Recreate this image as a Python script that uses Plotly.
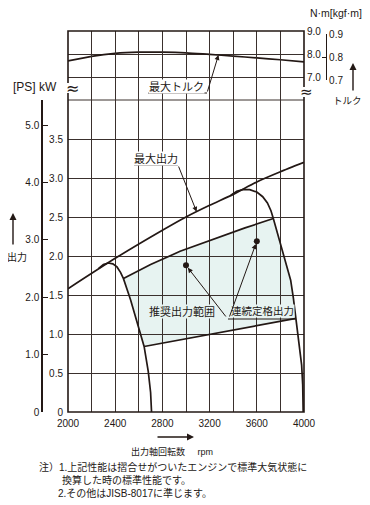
import numpy as np
import plotly.graph_objects as go

# ---------------- data ----------------
rpm_ticks = [2000, 2200, 2400, 2600, 2800, 3000, 3200, 3400, 3600, 3800, 4000]
rpm_ticktext = ['2000', '', '2400', '', '2800', '', '3200', '', '3600', '', '4000']
kw_ticks = [0, 0.5, 1.0, 1.5, 2.0, 2.5, 3.0, 3.5, 4.0]
kw_ticktext = ['0', '0.5', '1.0', '1.5', '2.0', '2.5', '3.0', '3.5', '']
ps_ticks = [0, 1, 2, 3, 4, 5]
ps_ticktext = ['0', '1.0', '2.0', '3.0', '4.0', '5.0']
nm_ticks = [6, 7, 8, 9]
nm_ticktext = ['', '7.0', '8.0', '9.0']
kgf_ticks = [0.7, 0.8, 0.9]
kgf_ticktext = ['0.7', '0.8', '0.9']

# max torque (N·m)
torque_rpm = [2000, 2200, 2400, 2600, 2800, 3000, 3200, 3400, 3600, 3800, 4000]
torque_nm = [7.70, 7.90, 8.03, 8.08, 8.08, 8.05, 7.98, 7.91, 7.83, 7.75, 7.66]

# max output (kW)
maxout_rpm = [2000, 2400, 2800, 3000, 3200, 3400, 3600, 3800, 4000]
maxout_kw = [1.58, 1.97, 2.33, 2.50, 2.65, 2.79, 2.95, 3.08, 3.20]

# low-speed limit hump (kW)
left_rpm = [2260, 2300, 2340, 2380, 2415, 2445, 2470, 2500, 2530, 2570, 2610, 2645, 2680, 2700, 2708]
left_kw = [1.84, 1.89, 1.91, 1.90, 1.86, 1.79, 1.71, 1.58, 1.44, 1.23, 1.03, 0.84, 0.52, 0.25, 0.0]

# high-speed limit hump (kW)
right_rpm = [3380, 3430, 3480, 3540, 3600, 3650, 3690, 3720, 3740, 3770, 3800, 3845, 3887, 3910, 3932, 3950, 3966, 3980, 3989, 3993]
right_kw = [2.78, 2.83, 2.85, 2.85, 2.82, 2.76, 2.68, 2.58, 2.48, 2.32, 2.14, 1.93, 1.69, 1.46, 1.20, 1.00, 0.84, 0.60, 0.35, 0.0]

# recommended output range edges (kW)
rec_top_rpm = [2470, 2700, 2950, 3200, 3500, 3740]
rec_top_kw = [1.71, 1.89, 2.06, 2.20, 2.36, 2.48]
rec_bot_rpm = [2645, 3932]
rec_bot_kw = [0.84, 1.20]

# marker dots
dot_rpm = [3000, 3600]
dot_kw = [1.88, 2.19]

notes = ['注）1.上記性能は摺合せがついたエンジンで標準大気状態に',
         '換算した時の標準性能です。',
         '2.その他はJISB-8017に準じます。']

# ---------------- style / geometry ----------------
W, H = 370, 505
OFF = 8                    # page body margin offset
INK = '#231815'
GRID = '#3a302d'
FILL = '#e7f3f1'
FONT = 'Liberation Sans, Arial, Noto Sans CJK JP, sans-serif'
X0, X1 = 68, 304          # plot area x (px in screenshot)
YB, YM, YT = 412, 100, 31  # bottom, break, top (px in screenshot)
KW_PER_PS = 0.73550


def px(x):
    return (x - OFF) / W


def py(y):
    return 1 - (y - OFF) / H


def rpm_at(xpix):
    return 2000 + (xpix - X0) / (X1 - X0) * 2000


def kw_at(ypix):
    return (YB - ypix) / (YB - YM) * 4.0


def nm_at(ypix):
    return 9 - (ypix - YT) / (YM - YT) * 3.0


fig = go.Figure()

# recommended range polygon (fill drawn under gridlines)
sel_r = [i for i, k in enumerate(right_kw) if rec_bot_kw[1] <= k <= rec_top_kw[-1]]
sel_l = [i for i, k in enumerate(left_kw) if rec_bot_kw[0] <= k <= rec_top_kw[0]]
poly_x = list(rec_top_rpm) + [right_rpm[i] for i in sel_r] + rec_bot_rpm[::-1] + [left_rpm[i] for i in sel_l][::-1]
poly_y = list(rec_top_kw) + [right_kw[i] for i in sel_r] + rec_bot_kw[::-1] + [left_kw[i] for i in sel_l][::-1]
path = 'M ' + ' L '.join(f'{a},{b}' for a, b in zip(poly_x, poly_y)) + ' Z'

line_style = dict(color=INK, width=1.7)
fig.add_trace(go.Scatter(x=torque_rpm, y=torque_nm, xaxis='x', yaxis='y2', mode='lines',
                         line=dict(color=INK, width=1.7, shape='spline', smoothing=0.8), hoverinfo='skip'))
fig.add_trace(go.Scatter(x=maxout_rpm, y=maxout_kw, mode='lines',
                         line=dict(color=INK, width=1.7, shape='spline', smoothing=0.6), hoverinfo='skip'))
fig.add_trace(go.Scatter(x=left_rpm, y=left_kw, mode='lines', line=line_style, hoverinfo='skip'))
fig.add_trace(go.Scatter(x=right_rpm, y=right_kw, mode='lines', line=line_style, hoverinfo='skip'))
fig.add_trace(go.Scatter(x=rec_top_rpm, y=rec_top_kw, mode='lines', line=line_style, hoverinfo='skip'))
fig.add_trace(go.Scatter(x=rec_bot_rpm, y=rec_bot_kw, mode='lines', line=line_style, hoverinfo='skip'))
fig.add_trace(go.Scatter(x=dot_rpm, y=dot_kw, mode='markers', marker=dict(color=INK, size=6), hoverinfo='skip'))
# carriers for the secondary scales
fig.add_trace(go.Scatter(x=[None], y=[None], yaxis='y3', xaxis='x', hoverinfo='skip'))
fig.add_trace(go.Scatter(x=[None], y=[None], yaxis='y4', xaxis='x', hoverinfo='skip'))

tf = dict(family=FONT, size=10, color=INK)
fig.update_layout(
    width=W, height=H, margin=dict(l=0, r=0, t=0, b=0, autoexpand=False),
    paper_bgcolor='white', plot_bgcolor='rgba(0,0,0,0)', showlegend=False,
    font=dict(family=FONT, color=INK),
    xaxis=dict(domain=[px(X0), px(X1)], range=[2000, 4000], tickvals=rpm_ticks, ticktext=rpm_ticktext,
               showgrid=True, gridcolor=GRID, gridwidth=1, ticks='', tickfont=tf, zeroline=False,
               showline=False, anchor='y', automargin=False, ticklabelstandoff=4),
    yaxis=dict(domain=[py(YB), py(YM)], range=[0, 4.0], tickvals=kw_ticks, ticktext=kw_ticktext,
               showgrid=True, gridcolor=GRID, gridwidth=1, ticks='', tickfont=tf, zeroline=False,
               showline=False, anchor='x', ticklabelstandoff=4, automargin=False),
    yaxis2=dict(domain=[py(YM), py(YT)], range=[6, 9], tickvals=nm_ticks, ticktext=nm_ticktext,
                showgrid=True, gridcolor=GRID, gridwidth=1, ticks='', tickfont=tf, zeroline=False,
                showline=False, anchor='x', side='right', ticklabelstandoff=2, automargin=False),
    yaxis3=dict(domain=[py(80), py(34)], range=[0.7, 0.9], tickvals=kgf_ticks, ticktext=kgf_ticktext,
                anchor='free', position=px(326), side='right', showgrid=False, zeroline=False,
                ticks='inside', ticklen=4, tickwidth=1.2, tickcolor=INK, showline=True, linecolor=INK,
                linewidth=1.2, tickfont=tf, automargin=False),
    yaxis4=dict(overlaying='y', range=[0, 4.0 / KW_PER_PS], tickvals=ps_ticks, ticktext=ps_ticktext,
                anchor='free', position=px(42), side='left', showgrid=False, zeroline=False,
                ticks='inside', ticklen=5, tickwidth=1.2, tickcolor=INK, showline=True, linecolor=INK,
                linewidth=1.5, tickfont=tf, automargin=False),
)

shapes = [
    dict(type='path', path=path, xref='x', yref='y', fillcolor=FILL, line=dict(width=0), layer='below'),
    dict(type='rect', xref='paper', yref='paper', x0=px(X0), x1=px(X1), y0=py(YB), y1=py(YT),
         line=dict(color=INK, width=1.6), layer='above'),
    dict(type='line', xref='paper', yref='paper', x0=px(X0), x1=px(X1), y0=py(YM), y1=py(YM),
         line=dict(color=GRID, width=1), layer='below'),
    # breaks in the frame behind the ≈ marks
    dict(type='rect', xref='paper', yref='paper', x0=px(65), x1=px(71), y0=py(93), y1=py(83),
         fillcolor='white', line=dict(width=0), layer='above'),
    dict(type='rect', xref='paper', yref='paper', x0=px(301), x1=px(307), y0=py(97), y1=py(87),
         fillcolor='white', line=dict(width=0), layer='above'),
    # label underlines
    dict(type='line', xref='paper', yref='paper', x0=px(148), x1=px(207), y0=py(93), y1=py(93),
         line=dict(color=INK, width=1), layer='above'),
    dict(type='line', xref='paper', yref='paper', x0=px(134), x1=px(178), y0=py(165), y1=py(165),
         line=dict(color=INK, width=1), layer='above'),
    dict(type='line', xref='paper', yref='paper', x0=px(228), x1=px(296), y0=py(319), y1=py(319),
         line=dict(color=INK, width=1), layer='above'),
]
fig.update_layout(shapes=shapes)


def txt(t, x, y, size=10, xanchor='center', bg=None, family=FONT):
    d = dict(text=t, x=px(x), y=py(y), xref='paper', yref='paper', showarrow=False,
             font=dict(family=family, size=size, color=INK), xanchor=xanchor, yanchor='middle')
    if bg:
        d.update(bgcolor=bg, borderpad=0)
    return d


def arrow_px(xt, yt, xs, ys, head=2, width=1.4):
    return dict(text='', x=px(xt), y=py(yt), xref='paper', yref='paper', showarrow=True,
                ax=xs - xt, ay=ys - yt, arrowhead=head, arrowsize=1, arrowwidth=width, arrowcolor=INK)


def arrow_data(xt, yt, xs, ys, yref='y', standoff=0):
    return dict(text='', x=xt, y=yt, xref='x', yref=yref, ax=xs, ay=ys, axref='x', ayref=yref,
                showarrow=True, arrowhead=2, arrowsize=1, arrowwidth=1, arrowcolor=INK, standoff=standoff)


tip_max_rpm = 3090
tip_max_kw = float(np.interp(tip_max_rpm, maxout_rpm, maxout_kw))
tip_tq_rpm = 3275
tip_tq_nm = float(np.interp(tip_tq_rpm, torque_rpm, torque_nm))

ann = [
    txt('[PS] kW', 35, 87, 12),
    txt('≈', 72, 88, 16, family='DejaVu Sans'),
    txt('≈', 306, 92, 15, family='DejaVu Sans'),
    txt('N·m[kgf·m]', 336, 13, 10.5),
    txt('トルク', 347, 101, 9.5),
    arrow_px(353, 63, 353, 92),
    txt('出力', 17, 257, 10),
    arrow_px(13, 213, 13, 246),
    txt('出力軸回転数\u00a0\u00a0\u00a0\u00a0\u00a0rpm', 172, 451, 9),
    arrow_px(194, 437, 156, 437),
    txt(notes[0], 37, 467, 10, xanchor='left'),
    txt(notes[1], 60, 480, 10, xanchor='left'),
    txt(notes[2], 56, 493, 10, xanchor='left'),
    txt('最大トルク', 176, 86, 11, bg='white'),
    arrow_data(tip_tq_rpm, tip_tq_nm, rpm_at(207), nm_at(93), yref='y2'),
    txt('最大出力', 156, 158, 11, bg='white'),
    arrow_data(tip_max_rpm, tip_max_kw, rpm_at(178), kw_at(165)),
    txt('推奨出力範囲', 182, 311, 11, bg=FILL),
    txt('連続定格出力', 263, 311, 10.5, bg=FILL),
    arrow_data(dot_rpm[0], dot_kw[0], rpm_at(227), kw_at(318), standoff=3),
    arrow_data(dot_rpm[1], dot_kw[1], rpm_at(229), kw_at(318), standoff=3),
]
fig.update_layout(annotations=ann)

fig.write_html('out.html')
